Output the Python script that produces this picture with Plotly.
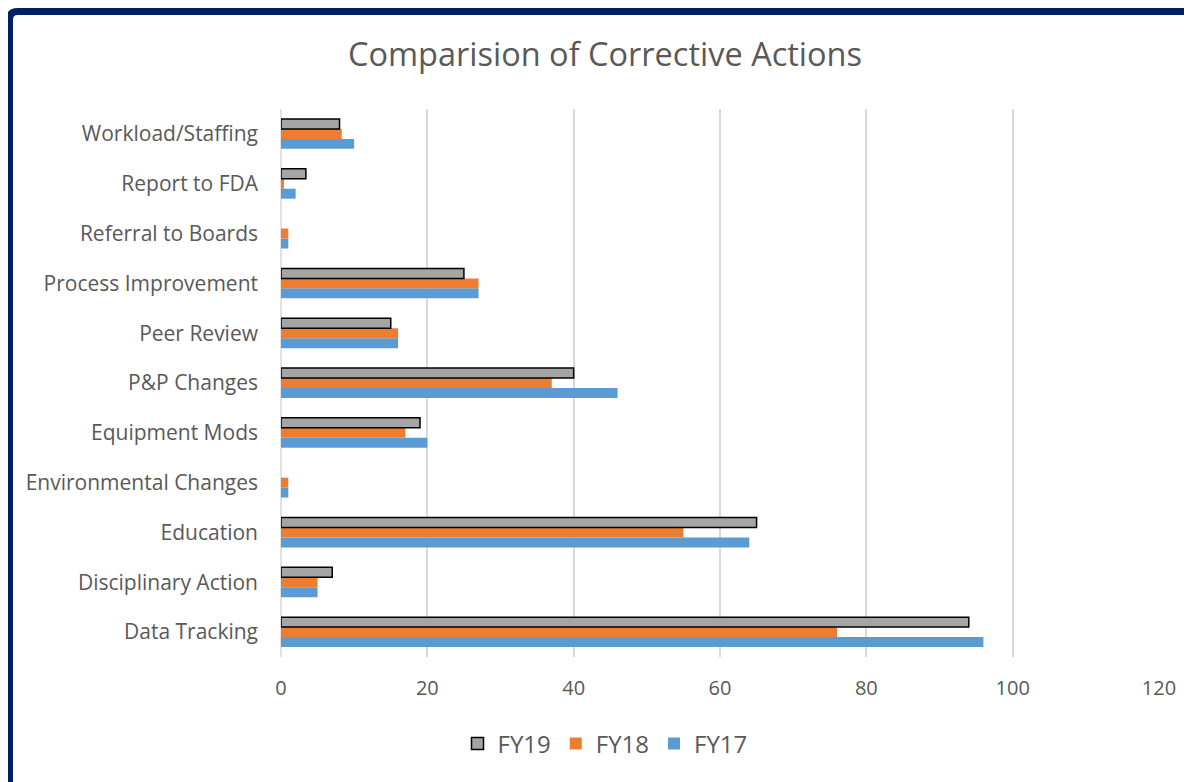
import plotly.graph_objects as go

categories = ["Data Tracking", "Disciplinary Action", "Education", "Environmental Changes",
              "Equipment Mods", "P&P Changes", "Peer Review", "Process Improvement",
              "Referral to Boards", "Report to FDA", "Workload/Staffing"]
fy17 = [96, 5, 64, 1, 20, 46, 16, 27, 1, 2, 10]
fy18 = [76, 5, 55, 1, 17, 37, 16, 27, 1, 0.4, 8.3]
fy19 = [94, 7, 65, 0, 19, 40, 15, 25, 0, 3.4, 8]
x_ticks = [0, 20, 40, 60, 80, 100, 120]

OFF = 8  # page body margin
W, H = 1192 - OFF, 782 - OFF
L, R, T, B = 281 - OFF, 1159 - OFF, 109 - OFF, 657 - OFF

FONT = "Open Sans, sans-serif"

fig = go.Figure()
fig.add_trace(go.Bar(y=categories, x=fy17, name="FY17", orientation="h",
                     marker=dict(color="#5B9BD5", line=dict(width=0))))
fig.add_trace(go.Bar(y=categories, x=fy18, name="FY18", orientation="h",
                     marker=dict(color="#ED7D31", line=dict(width=0))))
fig.add_trace(go.Bar(y=categories, x=fy19, name="FY19", orientation="h",
                     marker=dict(color="#A5A5A5",
                                 line=dict(color="black",
                                           width=[1.5 if v > 0 else 0 for v in fy19]))))

def px_x(p):
    return (p - OFF - L) / (R - L)

def px_y(p):
    return (B - (p - OFF)) / (B - T)

# dark navy border with rounded top-left corner (reference pixel coords)
bx, by, r = 9.5, 11.5, 8
path = (f"M {px_x(bx)} {px_y(800)} L {px_x(bx)} {px_y(by + r)} "
        f"Q {px_x(bx)} {px_y(by)} {px_x(bx + r)} {px_y(by)} L {px_x(1210)} {px_y(by)}")

fig.update_layout(
    width=W, height=H,
    paper_bgcolor="white", plot_bgcolor="white",
    margin=dict(l=L, r=W - R, t=T, b=H - B),
    barmode="group", bargap=0.4, bargroupgap=0,
    font=dict(family=FONT, color="#595959"),
    title=dict(text="Comparision of Corrective Actions", x=(605 - OFF) / W, xanchor="center",
               y=1 - (55 - OFF) / H, yanchor="middle", yref="container",
               font=dict(size=32.5, color="#595959", family=FONT)),
    xaxis=dict(range=[0, 120], tickvals=x_ticks, showgrid=True, gridcolor="#D9D9D9",
               gridwidth=1.5, zeroline=False, showline=False, ticks="",
               ticklabelstandoff=17,
               tickfont=dict(size=20, color="#595959")),
    yaxis=dict(showgrid=False, zeroline=False, showline=False, ticks="",
               ticklabelstandoff=22, tickfont=dict(size=21, color="#595959")),
    legend=dict(orientation="h", x=px_x(605), xanchor="center", y=px_y(744),
                yanchor="middle", traceorder="reversed",
                font=dict(size=24, color="#595959")),
    shapes=[dict(type="path", path=path, xref="paper", yref="paper",
                 line=dict(color="#002060", width=7), layer="above"),
            dict(type="line", xref="paper", yref="paper", x0=0, x1=0, y0=0, y1=1,
                 line=dict(color="#D9D9D9", width=1.5), layer="below")],
)

fig.write_html("out.html")
